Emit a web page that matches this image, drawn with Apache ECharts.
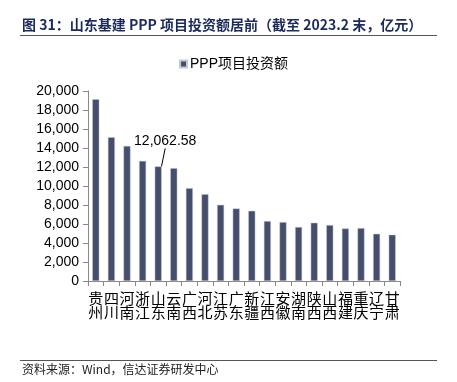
<!DOCTYPE html>
<html><head><meta charset="utf-8">
<script src="https://cdn.jsdelivr.net/npm/echarts@6/dist/echarts.min.js"></script>
<style>html,body{margin:0;padding:0;background:#fff;}#c{width:457px;height:382px;}</style>
</head><body><div id="c"></div>
<script>
var categories = ['贵州','四川','河南','浙江','山东','云南','广西','河北','江苏','广东','新疆','江西','安徽','湖南','陕西','山西','福建','重庆','辽宁','甘肃'];
var values = [19130, 15140, 14220, 12640, 12062.58, 11880, 9770, 9140, 8020, 7630, 7390, 6310, 6200, 5680, 6130, 5890, 5530, 5570, 4970, 4870];
var yTicks = [0, 2000, 4000, 6000, 8000, 10000, 12000, 14000, 16000, 18000, 20000];
var seriesName = 'PPP项目投资额';
var titleText = '图 31：山东基建 PPP 项目投资额居前（截至 2023.2 末，亿元）';
var sourceText = '资料来源：Wind，信达证券研发中心';
var highlightIndex = 4;

function fmt(v){ return String(v).replace(/\B(?=(\d{3})+(?!\d))/g, ','); }
var cjk = '"Liberation Sans", Arial, "Noto Sans CJK SC", sans-serif';
var chart = echarts.init(document.getElementById('c'), null, {renderer:'canvas'});
var data = values.map(function(v, i){
  var d = {value: v};
  if (i === highlightIndex) {
    d.label = {show: true};
  }
  return d;
});
chart.setOption({
  animation: false,
  graphic: [
    {type: 'text', x: 22, y: 18, z: 10, style: {text: titleText, fill: '#1c2b5c', font: 'bold 14px "Noto Sans CJK SC", sans-serif'}},
    {type: 'rect', z: 10, shape: {x: 20, y: 35, width: 417, height: 1}, style: {fill: '#555'}},
    {type: 'rect', z: 10, shape: {x: 20, y: 360, width: 417, height: 1}, style: {fill: '#555'}},
    {type: 'text', x: 22, y: 363, z: 10, style: {text: sourceText, fill: '#222', font: '12px "Noto Sans CJK SC", sans-serif'}}
  ],
  legend: {
    data: [seriesName], top: 52, left: 174, itemWidth: 7, itemHeight: 7, itemGap: 4,
    icon: 'rect', textStyle: {fontSize: 14, color: '#000', fontFamily: cjk, padding: [0,0,0,-2]}
  },
  grid: {left: 88, right: 57, top: 91, bottom: 101, containLabel: false},
  xAxis: {
    type: 'category', data: categories,
    axisLine: {lineStyle: {color: '#888'}},
    axisTick: {show: true, alignWithLabel: false, length: 5, lineStyle: {color: '#888'}},
    axisLabel: {interval: 0, margin: 10, fontSize: 15, lineHeight: 14, color: '#000', fontFamily: '"Noto Sans CJK SC", sans-serif',
      formatter: function(v){ return v.split('').join('\n'); }}
  },
  yAxis: {
    type: 'value', min: yTicks[0], max: yTicks[yTicks.length-1], interval: yTicks[1]-yTicks[0],
    splitLine: {show: false},
    axisLine: {show: true, lineStyle: {color: '#888'}},
    axisTick: {show: true, length: 5, lineStyle: {color: '#888'}},
    axisLabel: {fontSize: 14, color: '#000', margin: 9, fontFamily: cjk, formatter: function(v){ return fmt(v); }}
  },
  series: [{
    name: seriesName, type: 'bar', data: data, barWidth: 7,
    itemStyle: {color: '#454e6c', borderColor: '#c5c8d4', borderWidth: 0.5},
    label: {show: false, position: 'top', distance: 2, color: '#000', fontSize: 14, fontFamily: cjk,
      formatter: function(p){ var s = p.value.toFixed(2).split('.'); return fmt(s[0]) + '.' + s[1]; }},
    labelLine: {show: true, lineStyle: {color: '#000', width: 1}},
    labelLayout: function(p){ return p.dataIndex === highlightIndex ? {dx: 7, dy: -16} : {}; }
  }]
});
</script></body></html>
